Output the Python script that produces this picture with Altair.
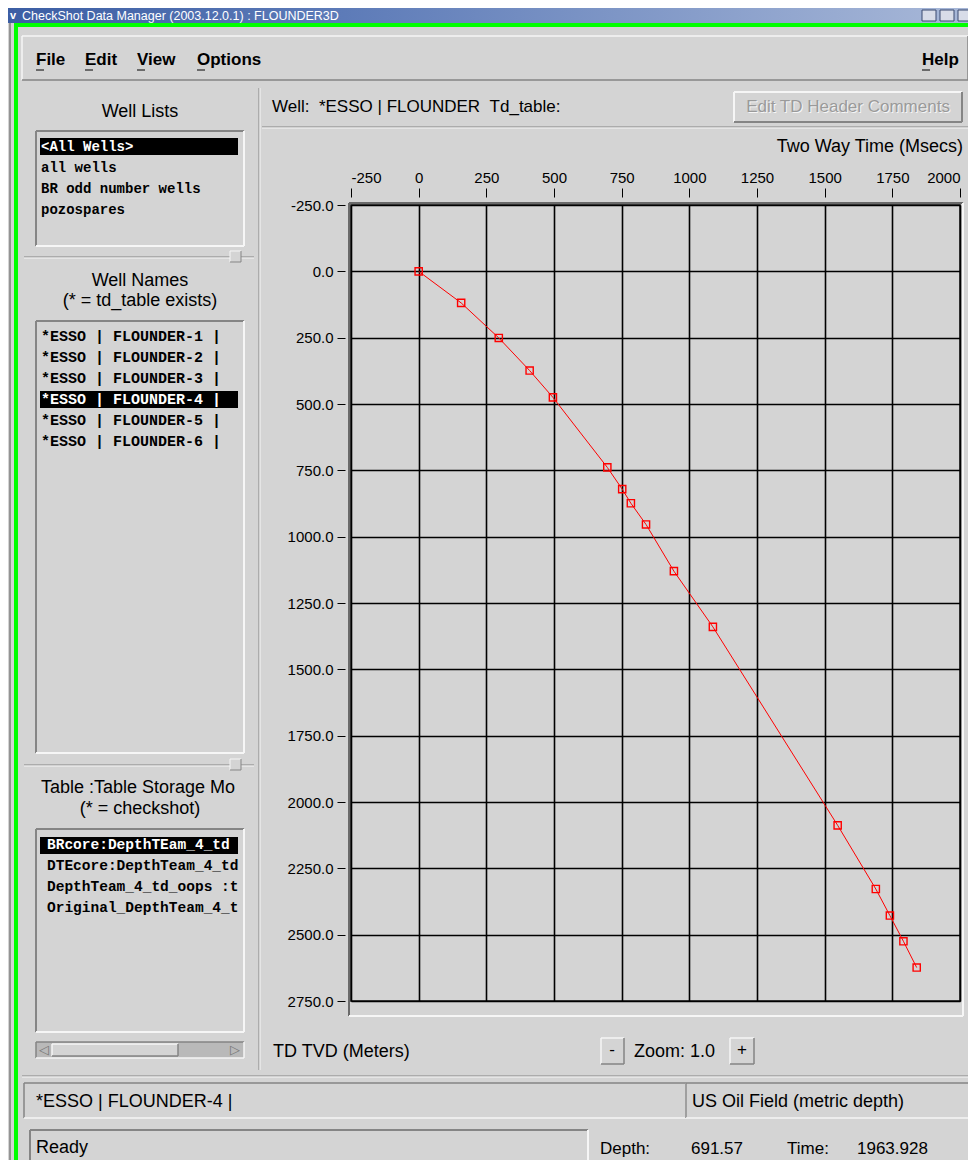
import altair as alt
import pandas as pd

# ---------------- data ----------------
twt_ms = [0, 157, 296, 410, 496, 697, 752, 784, 840, 943, 1087, 1548, 1689, 1741, 1791, 1840]
tvd_m = [0, 119, 251, 374, 475, 739, 821, 874, 954, 1130, 1340, 2088, 2328, 2428, 2525, 2624]
x_ticks = [-250, 0, 250, 500, 750, 1000, 1250, 1500, 1750, 2000]
y_ticks = [-250, 0, 250, 500, 750, 1000, 1250, 1500, 1750, 2000, 2250, 2500, 2750]

window_title = "CheckShot Data Manager (2003.12.0.1) : FLOUNDER3D"
menu_items = ["File", "Edit", "View", "Options"]
well_lists = ["<All Wells>", "all wells", "BR odd number wells", "pozospares"]
well_names = ["*ESSO | FLOUNDER-1 |", "*ESSO | FLOUNDER-2 |", "*ESSO | FLOUNDER-3 |",
              "*ESSO | FLOUNDER-4 |", "*ESSO | FLOUNDER-5 |", "*ESSO | FLOUNDER-6 |"]
tables = ["BRcore:DepthTEam_4_td", "DTEcore:DepthTeam_4_td", "DepthTeam_4_td_oops :t",
          "Original_DepthTeam_4_t"]

# ---------------- layout helpers (page pixel coordinates) ----------------
X0, Y0 = 351, 205          # page position of the plot area origin
PW, PH = 609, 796          # plot area size
UI = "Liberation Sans, Arial, Helvetica, sans-serif"
MONO = "Liberation Mono, DejaVu Sans Mono, monospace"
BG = "#d4d4d4"
DARK = "#858585"
LIGHT = "#f6f6f6"
NB = "\u00a0"

one = pd.DataFrame({"k": [0]})
layers = []


def rect(x1, y1, x2, y2, fill=None, stroke=None, sw=1.0):
    kw = {}
    if fill is not None:
        kw["fill"] = fill
    else:
        kw["fillOpacity"] = 0
    if stroke is not None:
        kw["stroke"] = stroke
        kw["strokeWidth"] = sw
    layers.append(alt.Chart(one).mark_rect(**kw).encode(
        x=alt.value(x1 - X0), x2=alt.value(x2 - X0),
        y=alt.value(y1 - Y0), y2=alt.value(y2 - Y0)))


def hline(x1, x2, y, color, w=1.0):
    layers.append(alt.Chart(one).mark_rule(color=color, strokeWidth=w).encode(
        x=alt.value(x1 - X0), x2=alt.value(x2 - X0), y=alt.value(y - Y0)))


def vline(x, y1, y2, color, w=1.0):
    layers.append(alt.Chart(one).mark_rule(color=color, strokeWidth=w).encode(
        x=alt.value(x - X0), y=alt.value(y1 - Y0), y2=alt.value(y2 - Y0)))


def bevel(x1, y1, x2, y2, sunken=True, w=2.0):
    tl, br = (DARK, LIGHT) if sunken else (LIGHT, DARK)
    hline(x1, x2, y1, tl, w)
    vline(x1, y1, y2, tl, w)
    hline(x1, x2, y2, br, w)
    vline(x2, y1, y2, br, w)


def text(s, x, y, size=18, color="#000", font=UI, weight="normal", align="left"):
    layers.append(alt.Chart(one).mark_text(
        text=s, fontSize=size, font=font, fontWeight=weight, color=color,
        align=align, baseline="middle").encode(
        x=alt.value(x - X0), y=alt.value(y - Y0)))


# ---------------- window chrome ----------------
layers.append(alt.Chart(one).mark_rect(
    color=alt.Gradient(gradient="linear", x1=0, x2=1, y1=0, y2=0,
                       stops=[alt.GradientStop(color="#3c5ea4", offset=0),
                              alt.GradientStop(color="#5d7bb8", offset=0.35),
                              alt.GradientStop(color="#a8b8d8", offset=1)])).encode(
    x=alt.value(8 - X0), x2=alt.value(968 - X0), y=alt.value(8 - Y0), y2=alt.value(23 - Y0)))
text(window_title, 22, 16, size=12.5, color="#ffffff")
text("v", 13, 16, size=11, color="#ffffff", weight="bold", align="center")
for bx in (922, 940, 958):
    rect(bx, 10, bx + 14, 21, fill="#d8dce8", stroke="#3a4a70", sw=1)

# green focus frame
hline(14, 968, 25, "#00ff00", 4)
vline(16, 25, 1170, "#00ff00", 4)
vline(10, 23, 1170, "#555555", 1)

# menu bar
bevel(22, 36, 968, 80, sunken=False, w=1.5)
mx = [36, 85, 137, 197]
for m, x in zip(menu_items, mx):
    text(m, x, 60, size=17, weight="bold")
    hline(x, x + 8, 70, "#000", 1)
text("Help", 922, 60, size=17, weight="bold")
hline(922, 930, 70, "#000", 1)

# ---------------- left panel ----------------
text("Well Lists", 140, 112, size=18, align="center")
rect(36, 131, 244, 246, fill=BG)
bevel(36, 131, 244, 246)
rect(40, 138, 238, 155, fill="#000")
for i, s in enumerate(well_lists):
    text(s, 41, 147 + 21 * i, size=14, font=MONO, weight="bold",
         color="#ffffff" if i == 0 else "#000")

hline(24, 254, 257, DARK, 1)
hline(24, 254, 258, LIGHT, 1)
rect(230, 251, 241, 262, fill=BG)
bevel(230, 251, 241, 262, sunken=False, w=1)

text("Well Names", 140, 281, size=18, align="center")
text("(* = td_table exists)", 140, 301, size=18, align="center")
rect(36, 321, 244, 753, fill=BG)
bevel(36, 321, 244, 753)
rect(40, 391, 238, 408, fill="#000")
for i, s in enumerate(well_names):
    text(s, 41, 336 + 21 * i, size=15, font=MONO, weight="bold",
         color="#ffffff" if i == 3 else "#000")

hline(24, 254, 765, DARK, 1)
hline(24, 254, 766, LIGHT, 1)
rect(230, 759, 241, 770, fill=BG)
bevel(230, 759, 241, 770, sunken=False, w=1)

text("Table :Table Storage Mo", 41, 788, size=18)
text("(* = checkshot)", 140, 809, size=18, align="center")
rect(36, 829, 244, 1032, fill=BG)
bevel(36, 829, 244, 1032)
rect(40, 837, 238, 854, fill="#000")
for i, s in enumerate(tables):
    text(s, 47, 845 + 21 * i, size=14.5, font=MONO, weight="bold",
         color="#ffffff" if i == 0 else "#000")

# horizontal scrollbar
rect(36, 1042, 244, 1058, fill="#b9b9b9")
bevel(36, 1042, 244, 1058, w=1.5)
rect(52, 1044, 178, 1056, fill=BG)
bevel(52, 1044, 178, 1056, sunken=False, w=1.5)
text("◁", 44, 1050, size=13, color="#777777", font="DejaVu Sans", align="center")
text("▷", 235, 1050, size=13, color="#777777", font="DejaVu Sans", align="center")

# vertical separator
vline(259, 88, 1070, DARK, 1)
vline(260, 88, 1070, LIGHT, 1)

# ---------------- right panel header ----------------
text(f"Well:{NB}{NB}*ESSO | FLOUNDER{NB}{NB}Td_table:", 272, 107, size=17)
rect(734, 92, 962, 122, fill=BG)
bevel(734, 92, 962, 122, sunken=False, w=2)
text("Edit TD Header Comments", 849, 108, size=17, color=LIGHT, align="center")
text("Edit TD Header Comments", 848, 107, size=17, color="#9a9a9a", align="center")
hline(262, 972, 127, DARK, 1)
hline(262, 972, 128, LIGHT, 1)
text("Two Way Time (Msecs)", 963, 147, size=18, align="right")

# plot canvas frame (sunken)
vline(349, 203, 1016, "#6a6a6a", 2)
hline(349, 963, 203, "#6a6a6a", 2)
hline(349, 963, 1016, LIGHT, 2)
vline(963, 203, 1016, LIGHT, 2)

# ---------------- bottom of right panel ----------------
text("TD TVD (Meters)", 273, 1052, size=18)
rect(601, 1038, 624, 1064, fill=BG)
bevel(601, 1038, 624, 1064, sunken=False, w=1.5)
text("-", 612, 1050, size=17, align="center")
text("Zoom: 1.0", 634, 1052, size=18)
rect(730, 1038, 754, 1064, fill=BG)
bevel(730, 1038, 754, 1064, sunken=False, w=1.5)
text("+", 742, 1050, size=17, align="center")

hline(22, 970, 1076, DARK, 1)
hline(22, 970, 1077, LIGHT, 1)

# status bars
bevel(24, 1083, 686, 1118, w=1.5)
bevel(686, 1083, 970, 1118, w=1.5)
text("*ESSO | FLOUNDER-4 |", 36, 1102, size=18)
text("US Oil Field (metric depth)", 692, 1102, size=18)
bevel(30, 1130, 588, 1162, w=2)
text("Ready", 36, 1148, size=18)
text("Depth:", 600, 1149, size=17)
text("691.57", 691, 1149, size=17)
text("Time:", 787, 1149, size=17)
text("1963.928", 857, 1149, size=17)

# ---------------- the plot itself ----------------
pts = pd.DataFrame({"twt": twt_ms, "tvd": tvd_m})
xsc = alt.Scale(domain=[-250, 2000], nice=False, zero=False)
ysc = alt.Scale(domain=[-250, 2750], reverse=True, nice=False, zero=False)
xax = alt.Axis(orient="top", values=x_ticks, grid=True, gridColor="#000000",
               gridWidth=1.6, gridOpacity=1, domain=False, tickColor="#000000",
               tickSize=9, tickWidth=1, offset=8, labelPadding=3, labelFlush=True,
               labelOverlap=False, labelFont=UI, labelFontSize=15, labelColor="#000000",
               labelExpr="replace(format(datum.value, 'd'), '−', '-')", title=None)
yax = alt.Axis(orient="left", values=y_ticks, grid=True, gridColor="#000000",
               gridWidth=1.6, gridOpacity=1, domain=False, tickColor="#000000",
               tickSize=8, tickWidth=1, offset=6, labelPadding=4, labelOverlap=False,
               labelFont=UI, labelFontSize=15, labelColor="#000000",
               labelExpr="replace(format(datum.value, '.1f'), '−', '-')", title=None)

curve = alt.Chart(pts).mark_line(color="#ff0000", strokeWidth=1).encode(
    x=alt.X("twt:Q", scale=xsc, axis=xax),
    y=alt.Y("tvd:Q", scale=ysc, axis=yax),
    order="tvd:Q")
marks = alt.Chart(pts).mark_point(shape="square", filled=False, color="#ff0000",
                                  size=52, strokeWidth=1.4, opacity=1).encode(
    x=alt.X("twt:Q", scale=xsc), y=alt.Y("tvd:Q", scale=ysc))

chart = alt.layer(*layers, curve, marks).properties(
    width=PW, height=PH,
    padding={"left": X0 - 8, "top": Y0 - 8, "right": 968 - 8 - (X0 - 8) - PW,
             "bottom": 1152 - (Y0 - 8) - PH},
    autosize=alt.AutoSizeParams(type="none"),
    background=BG,
).configure_view(stroke="#111111", strokeWidth=1.5, fill=BG)

chart.save("out.html", embed_options={"renderer": "svg", "actions": False})
